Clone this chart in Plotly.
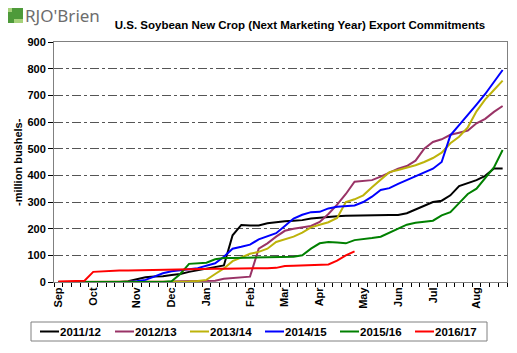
import plotly.graph_objects as go

weeks = list(range(52))
month_labels = ["Sep", "Oct", "Nov", "Dec", "Jan", "Feb", "Mar", "Apr", "May", "Jun", "Jul", "Aug"]
month_weeks = [0, 4, 9, 13, 17, 22, 26, 30, 35, 39, 43, 48]

s_2011 = [0, 0, 0, 0, 0, 0, 0, 0, 3, 10, 18, 21, 22, 26, 30, 38, 44, 50, 55, 62,
          175, 214, 212, 212, 220, 225, 228, 230, 232, 238, 241, 245, 247, 248, 249, 249,
          250, 250, 251, 251, 258, 272, 285, 300, 305, 325, 360, 372, 382, 398, 426, 426]
s_2012 = [0, 0, 0, 0, 0, 0, 0, 0, 0, 1, 1, 2, 2, 2, 3, 3, 3, 4, 5, 12,
          15, 17, 20, 125, 145, 170, 192, 200, 205, 210, 225, 255, 290, 330, 376, 378,
          382, 395, 410, 425, 435, 455, 500, 525, 535, 552, 560, 568, 595, 612, 638, 660]
s_2013 = [0, 0, 0, 0, 0, 0, 0, 0, 0, 0, 0, 0, 0, 0, 1, 2, 4, 8, 30, 51,
          78, 93, 106, 113, 125, 150, 160, 170, 185, 205, 215, 224, 240, 300, 310, 325,
          355, 383, 412, 420, 428, 438, 450, 465, 485, 520, 545, 580, 640, 685, 720, 755]
s_2014 = [0, 0, 0, 0, 0, 0, 0, 0, 0, 3, 8, 20, 33, 40, 45, 48, 52, 60, 70, 95,
          125, 132, 140, 160, 172, 183, 210, 238, 252, 262, 263, 276, 282, 285, 287, 300,
          320, 345, 352, 368, 382, 395, 410, 425, 450, 550, 588, 625, 665, 705, 752, 795]
s_2015 = [0, 0, 0, 0, 0, 0, 0, 0, 0, 0, 0, 0, 0, 3, 30, 68, 70, 72, 85, 90,
          90, 91, 92, 92, 93, 93, 94, 95, 100, 125, 145, 150, 148, 145, 157, 160,
          165, 170, 185, 200, 215, 222, 225, 230, 250, 262, 296, 330, 350, 388, 430, 495]
s_2016 = [2, 3, 4, 5, 38, 40, 42, 43, 43, 44, 44, 45, 45, 46, 47, 48, 48, 49, 50, 50,
          50, 51, 51, 51, 52, 53, 60, 61, 62, 64, 65, 66, 80, 100, 115]

series_names = ["2011/12", "2012/13", "2013/14", "2014/15", "2015/16", "2016/17"]
series_vals = [s_2011, s_2012, s_2013, s_2014, s_2015, s_2016]
colors = ["#000000", "#993366", "#BDB30A", "#0000FF", "#008000", "#FF0000"]

FONT = "Arial, 'Liberation Sans', sans-serif"

# plot-area geometry in pixels (for positioning decorations)
PX0, PW, PY0, PH = 54, 453, 282, 240


def px(x):
    return (x - PX0) / PW


def py(y):
    return (PY0 - y) / PH


fig = go.Figure()
for name, vals, col in zip(series_names, series_vals, colors):
    fig.add_trace(go.Scatter(x=weeks[:len(vals)], y=vals, mode="lines", name=name,
                             line=dict(color=col, width=2), showlegend=False))

fig.update_layout(
    width=517, height=353,
    margin=dict(l=54, r=10, t=42, b=71),
    paper_bgcolor="white", plot_bgcolor="white",
    font=dict(family=FONT, size=11, color="#000000"),
    title=dict(text="<b>U.S. Soybean New Crop (Next Marketing Year) Export Commitments</b>",
               x=300 / 517, xanchor="center", xref="container",
               y=1 - 25 / 353, yanchor="middle", yref="container",
               font=dict(family=FONT, size=11.5, color="#000000")),
    showlegend=False,
)

fig.update_xaxes(
    range=[-0.5, 51.5],
    tickmode="array", tickvals=month_weeks, ticktext=month_labels,
    tickangle=-90, ticks="",
    tickfont=dict(family=FONT, size=11, color="#000000", weight="bold"),
    showgrid=False, zeroline=False,
    showline=True, linecolor="#808080", linewidth=1, mirror=True,
    minor=dict(tickmode="array", tickvals=[i - 0.5 for i in range(53)],
               ticks="outside", ticklen=4, tickcolor="#000000", showgrid=False),
)
fig.update_yaxes(
    range=[0, 900], tickmode="linear", tick0=0, dtick=100,
    ticks="outside", ticklen=5, tickcolor="#000000",
    tickfont=dict(family=FONT, size=11, color="#000000", weight="bold"),
    showgrid=True, gridcolor="#555555", gridwidth=1, griddash="dashdot",
    zeroline=False,
    showline=True, linecolor="#808080", linewidth=1, mirror=True,
)

# Y-axis title
fig.add_annotation(text="<b>-million bushels-</b>", xref="paper", yref="paper",
                   x=px(18), y=py(162), xanchor="center", yanchor="middle",
                   textangle=-90, showarrow=False,
                   font=dict(family=FONT, size=11, color="#000000"))

# Legend drawn as a boxed row
fig.add_shape(type="rect", xref="paper", yref="paper",
              x0=px(31), x1=px(487), y0=py(341), y1=py(322),
              line=dict(color="#808080", width=1), fillcolor="white", layer="above")
for i, (name, col) in enumerate(zip(series_names, colors)):
    lx = 40 + 75 * i
    fig.add_shape(type="line", xref="paper", yref="paper",
                  x0=px(lx), x1=px(lx + 19), y0=py(331.5), y1=py(331.5),
                  line=dict(color=col, width=2), layer="above")
    fig.add_annotation(text=f"<b>{name}</b>", xref="paper", yref="paper",
                       x=px(lx + 19), y=py(331.5), xanchor="left", yanchor="middle",
                       showarrow=False, xshift=-1,
                       font=dict(family=FONT, size=11.5, color="#000000"))

# Logo: green icon and company name
fig.add_shape(type="rect", xref="paper", yref="paper",
              x0=px(8), x1=px(23), y0=py(23), y1=py(8),
              fillcolor="#4E9A3A", line=dict(width=0), layer="above")
fig.add_shape(type="rect", xref="paper", yref="paper",
              x0=px(14), x1=px(23), y0=py(23), y1=py(19),
              fillcolor="#A6D27A", line=dict(width=0), layer="above")
fig.add_shape(type="rect", xref="paper", yref="paper",
              x0=px(8), x1=px(12), y0=py(12), y1=py(8),
              fillcolor="#A6D27A", line=dict(width=0), layer="above")
fig.add_annotation(text="RJO'Brien", xref="paper", yref="paper",
                   x=px(23), y=py(16), xanchor="left", yanchor="middle",
                   showarrow=False,
                   font=dict(family="'Noto Sans', sans-serif", size=17, color="#6d6d6d"))

fig.write_html("out.html")
